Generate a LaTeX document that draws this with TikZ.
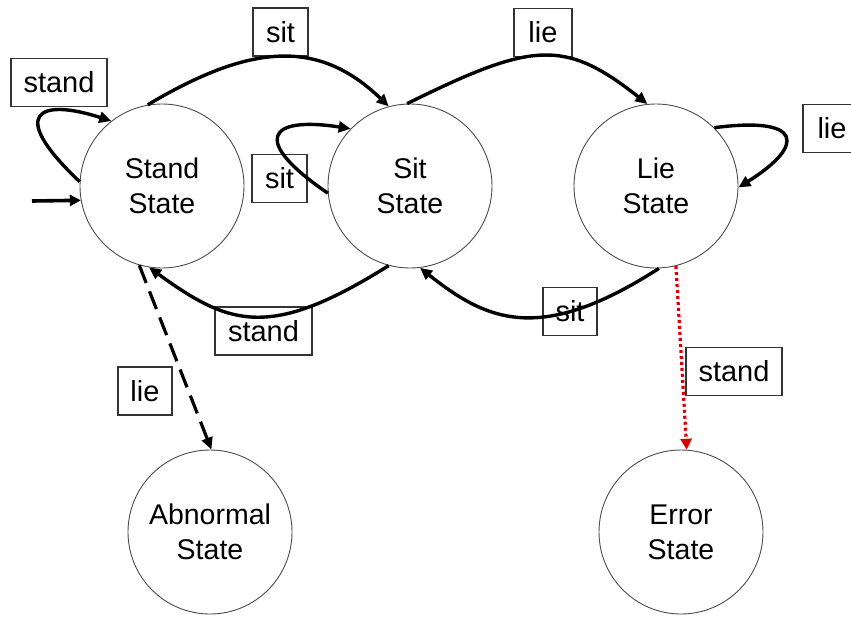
\documentclass[tikz,border=0pt]{standalone}
\usepackage{fontspec}
\setmainfont{Liberation Sans}
\usetikzlibrary{arrows.meta}
\begin{document}
\begin{tikzpicture}[x=1pt,y=-1pt,
  state/.style={circle,draw=black!70,line width=0.9pt,minimum size=164pt,inner sep=0pt,
    align=center,font=\fontsize{28.5}{35}\selectfont},
  lbl/.style={draw=black!80,line width=1.2pt,minimum width=#1,minimum height=48pt,inner sep=0pt,
    font=\fontsize{29}{33}\selectfont},
  lbl/.default=96pt,
  trans/.style={line width=3.4pt,-{Triangle[length=12pt,width=11pt]}},
]
\useasboundingbox (0,0) rectangle (851,616);

% states
\node[state] (stand) at (162,186) {Stand\\State};
\node[state] (sit)   at (410,186) {Sit\\State};
\node[state] (lie)   at (656,186) {Lie\\State};
\node[state] (abn)   at (210,532) {Abnormal\\State};
\node[state] (err)   at (681,532) {Error\\State};

% transition labels
\node[lbl=96pt] (lStandLoop) at (59,82.5)   {stand};
\node[lbl=55pt] (lSitTop)    at (280.5,32)  {sit};
\node[lbl=55pt] (lSitLoop)   at (279.5,178.5) {sit};
\node[lbl=58pt] (lLieTop)    at (543,32.5)  {lie};
\node[lbl=58pt] (lLieLoop)   at (832,128.5) {lie};
\node[lbl=97pt] (lStandBack) at (263.5,331) {stand};
\node[lbl=54pt] (lSitBack)   at (570,311.5) {sit};
\node[lbl=54pt] (lLieDown)   at (145,391)   {lie};
\node[lbl=96pt] (lStandErr)  at (734,371.5) {stand};

% start marker
\coordinate (init) at (32,201);
\draw[line width=3.6pt,-{Triangle[length=11pt,width=11pt]}] (init) -- (stand.190);

% self loops
\draw[trans] (stand.177) .. controls (6,112) and (40,98) .. (stand.128);
\draw[trans] (sit.185) .. controls (250,140) and (268,116) .. (sit.136);
\draw[trans] (lie.45) .. controls (803,116) and (806,145) .. (lie.359);

% forward transitions
\draw[trans] (stand.100) .. controls (250,44) and (318,38) .. (sit.105);
\draw[trans] (sit.92) .. controls (532,42) and (564,38) .. (lie.96);

% backward transitions
\draw[trans] (sit.255) .. controls (270,340) and (230,326) .. (stand.261);
\draw[trans] (lie.272) .. controls (540,345) and (487,321) .. (sit.277);

% abnormal and error transitions
\draw[line width=3.2pt,dash pattern=on 19pt off 9pt,-{Triangle[length=12pt,width=11pt]}]
  (stand.254) -- (abn.89);
\draw[red!85!black,line width=3.2pt,dash pattern=on 3pt off 3pt,-{Triangle[length=11pt,width=11pt]}]
  (lie.284) -- (err.86);
\end{tikzpicture}
\end{document}
